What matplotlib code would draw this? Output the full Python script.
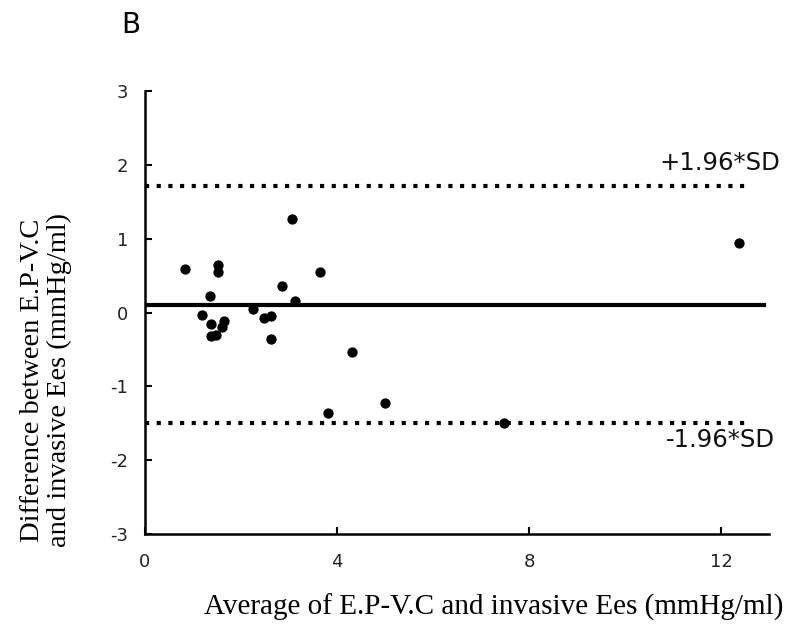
import matplotlib
matplotlib.use("Agg")
import matplotlib.pyplot as plt

plt.rcParams["axes.unicode_minus"] = False

# ── data ────────────────────────────────────────────────────────────────────
avg_ees = [0.83, 1.52, 1.52, 1.35, 1.19, 1.38, 1.65, 1.60, 1.48, 1.38,
           2.25, 2.48, 2.63, 2.63, 2.85, 3.06, 3.13, 3.65, 4.31, 3.81,
           5.00, 7.48, 12.38]
diff_ees = [0.59, 0.64, 0.55, 0.23, -0.03, -0.15, -0.11, -0.20, -0.30, -0.32,
            0.05, -0.07, -0.04, -0.36, 0.36, 1.27, 0.16, 0.55, -0.54, -1.36,
            -1.23, -1.49, 0.95]
mean_diff = 0.1
upper_loa = 1.72
lower_loa = -1.5
x_ticks = [0, 4, 8, 12]
y_ticks = [-3, -2, -1, 0, 1, 2, 3]

fig = plt.figure(figsize=(7.94, 6.29), dpi=100)
ax = fig.add_axes([0.1826, 0.151, 0.786, 0.704])

# limits of agreement + mean
dot_style = dict(color="black", lw=3, linestyle=(0, (1.0, 1.8)),
                 dash_capstyle="butt")
ax.plot([0, 12.5], [upper_loa, upper_loa], **dot_style)
ax.plot([0, 12.5], [lower_loa, lower_loa], **dot_style)
ax.plot([0, 12.9], [mean_diff, mean_diff], color="black", lw=3)

ax.scatter(avg_ees, diff_ees, s=55, color="black", zorder=3, linewidths=0)

ax.text(10.72, upper_loa + 0.31, "+1.96*SD", fontsize=17.5, color="#111",
        ha="left", va="center")
ax.text(10.85, lower_loa - 0.23, "-1.96*SD", fontsize=17.5, color="#111",
        ha="left", va="center")

ax.set_xlim(0, 13)
ax.set_ylim(-3, 3)
ax.set_xticks(x_ticks)
ax.set_yticks(y_ticks)
ax.tick_params(direction="in", length=5, width=1.5, labelsize=13,
               labelcolor="#222")
ax.tick_params(axis="x", pad=14)
ax.tick_params(axis="y", pad=12)
for side in ("top", "right"):
    ax.spines[side].set_visible(False)
for side in ("left", "bottom"):
    ax.spines[side].set_linewidth(1.8)

fig.text(494 / 794, 1 - 607 / 629, "Average of E.P-V.C and invasive Ees (mmHg/ml)",
         fontsize=21, family="Liberation Serif", ha="center", va="center")
fig.text(46 / 794, 1 - 380 / 629,
         "Difference between E.P-V.C\nand invasive Ees (mmHg/ml)",
         fontsize=20.5, family="Liberation Serif", ha="center", va="center",
         rotation=90, multialignment="center", linespacing=1.1)
fig.text(131 / 794, 1 - 25 / 629, "B", fontsize=20, ha="center", va="center")

fig.savefig("out.png", dpi=100, facecolor="white")
